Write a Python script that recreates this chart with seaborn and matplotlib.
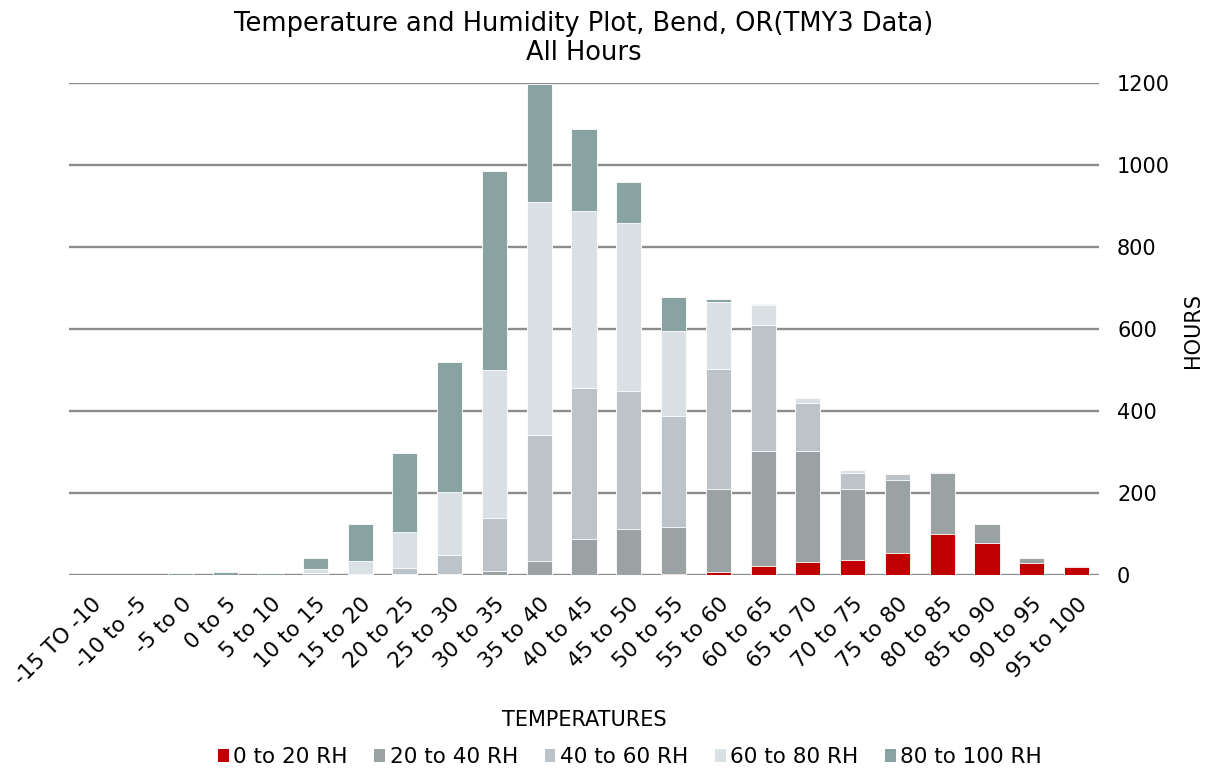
import matplotlib
matplotlib.use("Agg")
import matplotlib.pyplot as plt
import seaborn as sns
import numpy as np
import pandas as pd
from matplotlib.patches import Patch

# Temperature bins (deg F)
temperatures = ["-15 TO -10", "-10 to -5", "-5 to 0", "0 to 5", "5 to 10", "10 to 15",
                "15 to 20", "20 to 25", "25 to 30", "30 to 35", "35 to 40", "40 to 45",
                "45 to 50", "50 to 55", "55 to 60", "60 to 65", "65 to 70", "70 to 75",
                "75 to 80", "80 to 85", "85 to 90", "90 to 95", "95 to 100"]

# Hours in each relative-humidity band per temperature bin
rh_0_20   = [0, 0, 0, 0, 0, 0, 0, 0, 0, 0, 0, 0, 0, 2, 6, 21, 31, 36, 52, 99, 77, 29, 18]
rh_20_40  = [0, 0, 0, 0, 0, 0, 0, 1, 2, 8, 34, 88, 111, 114, 203, 281, 270, 172, 178, 150, 46, 11, 4]
rh_40_60  = [0, 0, 0, 0, 0, 3, 1, 15, 45, 131, 307, 367, 337, 272, 293, 307, 118, 41, 15, 1, 0, 0, 0]
rh_60_80  = [0, 0, 0, 0, 0, 10, 32, 88, 154, 361, 568, 433, 412, 207, 164, 50, 12, 7, 0, 0, 0, 0, 0]
rh_80_100 = [0, 0, 3, 7, 4, 28, 91, 192, 319, 487, 290, 200, 98, 82, 6, 2, 0, 0, 0, 0, 0, 0, 0]

series_names = ["0 to 20 RH", "20 to 40 RH", "40 to 60 RH", "60 to 80 RH", "80 to 100 RH"]
series_vals = [rh_0_20, rh_20_40, rh_40_60, rh_60_80, rh_80_100]
colors = ["#C00000", "#9BA2A4", "#BCC3C9", "#DAE1E4", "#88A3A1"]

sns.set_theme(style="white")
plt.rcParams["font.family"] = ["DejaVu Sans"]
plt.rcParams["text.color"] = "black"

fig = plt.figure(figsize=(12.17, 7.72), dpi=100)
ax = fig.add_axes([0.0567, 0.2558, 0.8463, 0.6362])

# Stacked bars: draw cumulative totals from the top band down
cum = np.cumsum(np.array(series_vals), axis=0)
for i in range(len(series_names) - 1, -1, -1):
    df = pd.DataFrame({"temp": temperatures, "hours": cum[i]})
    sns.barplot(data=df, x="temp", y="hours", color=colors[i], saturation=1,
                width=0.56, edgecolor="white", linewidth=0.6, ax=ax, zorder=3)

ax.set_ylim(0, 1200)
ax.set_xlim(-0.5, 22.5)
ax.set_yticks(range(0, 1201, 200))
ax.yaxis.tick_right()
ax.grid(axis="y", color="#8C8C8C", linewidth=1.7, zorder=0)
ax.grid(axis="x", visible=False)
for s in ax.spines.values():
    s.set_visible(False)

ax.tick_params(axis="y", length=0, pad=13, labelsize=15, colors="black")
ax.tick_params(axis="x", length=0, pad=14, labelsize=15.5, colors="black")
ax.set_xticks(range(len(temperatures)))
ax.set_xticklabels(temperatures, rotation=45, ha="right", rotation_mode="anchor")

ax.set_xlabel("")
ax.set_ylabel("")
fig.text(584 / 1217, 1 - 720 / 772, "TEMPERATURES", ha="center", va="center",
         fontsize=15, color="black")
fig.text(1193 / 1217, 1 - 330 / 772, "HOURS", ha="center", va="center",
         rotation=90, fontsize=15, color="black")

ax.set_title("Temperature and Humidity Plot, Bend, OR(TMY3 Data)\nAll Hours",
             fontsize=18.5, pad=16.5, linespacing=1.17, color="black")

handles = [Patch(facecolor=c, edgecolor="none", label=n) for c, n in zip(colors, series_names)]
fig.legend(handles=handles, loc="center", bbox_to_anchor=(630 / 1217, 1 - 757 / 772), ncol=5,
           frameon=False, fontsize=15.5, handlelength=0.5, handleheight=0.6,
           handletextpad=0.2, columnspacing=1.25, labelcolor="black")

fig.savefig("out.png", dpi=100, facecolor="white")
